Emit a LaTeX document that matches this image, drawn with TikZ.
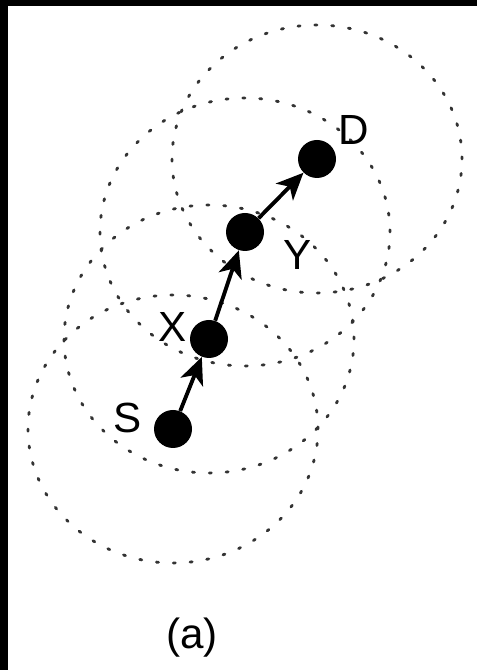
\documentclass[tikz,border=0pt]{standalone}
\usepackage{fontspec}
\setmainfont{Liberation Sans}
\usetikzlibrary{arrows.meta}
\definecolor{ink}{HTML}{000000}
\definecolor{rangeLine}{HTML}{333333}
\tikzset{
  every node/.append style = {text=ink},
  % --- hosts and their radio range --------------------------------------
  host/.style      = {circle, fill=ink, draw=none, inner sep=0pt,
                      minimum size=7.6mm},
  radiorange/.style = {draw=rangeLine, line width=1.6pt, line cap=round,
                      dash pattern=on 1.2pt off 8.4pt},
  % --- relations ----------------------------------------------------------
  hop/.style       = {draw=ink, line width=2.2pt,
                      -{Stealth[length=5.4mm,width=4.8mm,inset=1.5mm]}},
  % --- labels -------------------------------------------------------------
  hostlbl/.style   = {font=\fontsize{24}{28}\selectfont, inner sep=0pt},
}

\begin{document}
\begin{tikzpicture}

\useasboundingbox (0,0) rectangle (9.54,13.40);
\fill[white] (0,0) rectangle (9.54,13.40);
% frame remains
\fill[ink] (0,13.28) rectangle (9.54,13.40);
\fill[ink] (0,0) rectangle (0.16,13.40);

% radio range of each host on the route
\foreach \x/\y in {3.46/4.82, 4.18/6.62, 4.90/8.76, 6.34/10.22}{
  \draw[radiorange] (\x,\y) ellipse [x radius=2.90, y radius=2.68];}

% ==================== route S -> X -> Y -> D ===============================
\node[host] (src) at (3.46,4.82) {};
\node[host] (hx)  at (4.18,6.62) {};
\node[host] (hy)  at (4.90,8.76) {};
\node[host] (dst) at (6.34,10.22) {};

\draw[hop] (src) -- (hx);
\draw[hop] (hx) -- (hy);
\draw[hop] (hy) -- (dst);

\node[hostlbl] (lsrc) at (2.56,5.04) {S};
\node[hostlbl] (lhx)  at (3.46,6.86) {X};
\node[hostlbl] (lhy)  at (5.96,8.30) {Y};
\node[hostlbl] (ldst) at (7.08,10.80) {D};

\node[hostlbl] (cap) at (3.84,0.64) {(a)};

\end{tikzpicture}
\end{document}
